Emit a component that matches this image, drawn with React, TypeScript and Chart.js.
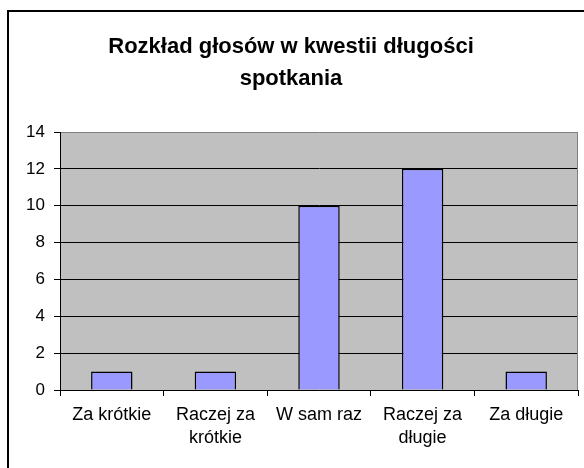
import React, { useEffect, useRef } from "react";
import { Chart, registerables } from "chart.js";

Chart.register(...registerables);

const titleLines = ["Rozkład głosów w kwestii długości", "spotkania"];
const categories: (string | string[])[] = [
  "Za krótkie",
  ["Raczej za", "krótkie"],
  "W sam raz",
  ["Raczej za", "długie"],
  "Za długie",
];
const votes = [1, 1, 10, 12, 1];
const yMin = 0;
const yMax = 14;
const yStep = 2;

const framePlugin = {
  id: "frame",
  beforeDraw(chart: any) {
    const { ctx, chartArea } = chart;
    ctx.save();
    ctx.fillStyle = "#ffffff";
    ctx.fillRect(0, 0, chart.width, chart.height);
    ctx.fillStyle = "#000000";
    ctx.fillRect(7, 10, 2, chart.height - 10);
    ctx.fillRect(7, 10, chart.width - 7, 2);
    ctx.fillStyle = "#C0C0C0";
    ctx.fillRect(
      chartArea.left,
      chartArea.top,
      chartArea.right - chartArea.left,
      chartArea.bottom - chartArea.top
    );
    ctx.font = "bold 22px Arial, 'Liberation Sans', sans-serif";
    ctx.fillStyle = "#000000";
    ctx.textAlign = "center";
    ctx.textBaseline = "alphabetic";
    ctx.fillText(titleLines[0], 291, 53);
    ctx.fillText(titleLines[1], 291, 85);
    ctx.restore();
  },
  beforeDatasetsDraw(chart: any) {
    const { ctx, chartArea } = chart;
    ctx.save();
    ctx.strokeStyle = "#808080";
    ctx.lineWidth = 1;
    ctx.beginPath();
    ctx.moveTo(Math.round(chartArea.right) - 0.5, chartArea.top);
    ctx.lineTo(Math.round(chartArea.right) - 0.5, chartArea.bottom);
    ctx.stroke();
    ctx.restore();
  },
};

export default function App() {
  const ref = useRef<HTMLCanvasElement | null>(null);
  useEffect(() => {
    if (!ref.current) return;
    const chart = new Chart(ref.current, {
      type: "bar",
      data: {
        labels: categories,
        datasets: [
          {
            data: votes,
            backgroundColor: "#9999FF",
            borderColor: "#000000",
            borderWidth: 1.5,
            barPercentage: 0.4,
            categoryPercentage: 1,
          },
        ],
      },
      options: {
        responsive: false,
        animation: false,
        layout: { padding: { left: 0, top: 132, right: 6, bottom: 0 } },
        plugins: {
          legend: { display: false },
          title: { display: false },
          tooltip: { enabled: false },
        },
        scales: {
          x: {
            afterFit: (s: any) => {
              s.height = 78;
            },
            grid: {
              offset: true,
              drawOnChartArea: false,
              drawTicks: true,
              tickLength: 6,
              tickColor: "#000000",
            },
            border: { display: true, color: "#000000", width: 1 },
            ticks: {
              color: "#000000",
              font: { family: "Arial, 'Liberation Sans', sans-serif", size: 18, lineHeight: 1.3 },
              padding: 7,
              maxRotation: 0,
              autoSkip: false,
            },
          },
          y: {
            min: yMin,
            max: yMax,
            afterFit: (s: any) => {
              s.width = 60;
            },
            grid: {
              color: (c: any) => (c.tick && c.tick.value === yMax ? "#808080" : "#000000"),
              tickColor: "#000000",
              tickLength: 6,
              lineWidth: 1,
            },
            border: { display: true, color: "#000000", width: 1 },
            ticks: {
              stepSize: yStep,
              color: "#000000",
              padding: 9,
              font: { family: "Arial, 'Liberation Sans', sans-serif", size: 17 },
            },
          },
        },
      },
      plugins: [framePlugin],
    });
    return () => chart.destroy();
  }, []);
  return (
    <div style={{ position: "absolute", left: 0, top: 0, width: 584, height: 468, background: "#fff" }}>
      <canvas ref={ref} width={584} height={468} style={{ display: "block" }} />
    </div>
  );
}
